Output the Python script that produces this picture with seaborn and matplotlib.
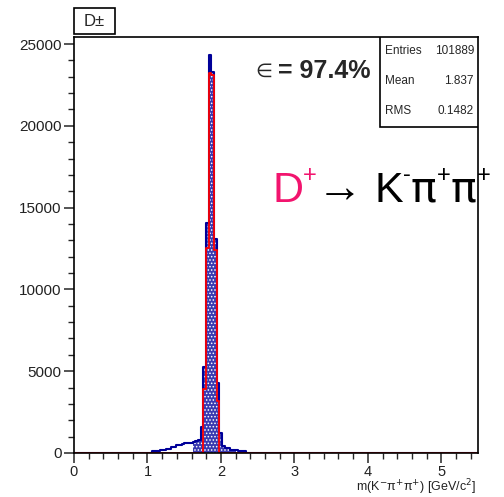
import numpy as np
import pandas as pd
import matplotlib
matplotlib.use('Agg')
import matplotlib.pyplot as plt
from matplotlib.patches import Rectangle
from matplotlib.ticker import MultipleLocator
import seaborn as sns

# binning of the invariant mass histogram (GeV/c^2)
n_bins = 150
x_lo, x_hi = 0.0, 5.5

# all D+- candidates, bins 29..63 (the rest is empty)
all_first = 29
all_counts = [120, 120, 120, 180, 180, 265, 265, 370, 370, 490,
              490, 520, 590, 590, 620, 650, 720, 800, 1610, 5240,
              14060, 24330, 23300, 13080, 4260, 1220, 400, 290, 290, 180,
              180, 180, 120, 120, 120]

# mass window shown with the dotted fill
win_first, win_last = 44, 59

# candidates passing the selection (red), bins 48..53
red_first = 48
red_counts = [3900, 12530, 23200, 23100, 12400, 3200]

stats_names = ['Entries', 'Mean', 'RMS']
stats_values = ['101889', '1.837', '0.1482']
eff_text = '= 97.4%'

W, H = 504, 497

edges = np.linspace(x_lo, x_hi, n_bins + 1)
df = pd.DataFrame({'mass': 0.5 * (edges[:-1] + edges[1:])})
df['all'] = 0.0
df.loc[all_first:all_first + len(all_counts) - 1, 'all'] = all_counts
df['win'] = 0.0
df.loc[win_first:win_last, 'win'] = df.loc[win_first:win_last, 'all']
df['sel'] = 0.0
df.loc[red_first:red_first + len(red_counts) - 1, 'sel'] = red_counts
bin_list = edges.tolist()

sns.set_style('ticks')
plt.rcParams['font.family'] = ['Liberation Sans', 'DejaVu Sans']
plt.rcParams['hatch.linewidth'] = 0.7

fig = plt.figure(figsize=(W / 100, H / 100), dpi=100)
ax = fig.add_axes([74 / W, 1 - 453 / H, 404 / W, 416 / H])

navy = '#000099'
sns.histplot(data=df, x='mass', weights='win', bins=bin_list, element='step', fill=True,
             facecolor='#3a3ab0', edgecolor='white', hatch='.....', linewidth=0,
             alpha=1, ax=ax)
sns.histplot(data=df, x='mass', weights='all', bins=bin_list, element='step', fill=False,
             color=navy, linewidth=1.5, ax=ax)
sns.histplot(data=df, x='mass', weights='sel', bins=bin_list, element='step', fill=False,
             color='#ff0000', linewidth=1.3, ax=ax)

ax.set_xlim(x_lo, x_hi)
ax.set_ylim(0, 25430)
ax.set_xlabel('')
ax.set_ylabel('')
ax.xaxis.set_major_locator(MultipleLocator(1))
ax.xaxis.set_minor_locator(MultipleLocator(0.2))
ax.yaxis.set_major_locator(MultipleLocator(5000))
ax.yaxis.set_minor_locator(MultipleLocator(1000))
ax.tick_params(which='major', direction='out', length=7, width=1.1,
               labelsize=11, labelcolor='#222222')
ax.tick_params(axis='x', which='major', labelsize=10.5, pad=2)
ax.tick_params(axis='y', which='major', pad=2)
ax.tick_params(which='minor', direction='out', length=4, width=1.0)
for s in ax.spines.values():
    s.set_visible(True)
    s.set_linewidth(1.2)
    s.set_color('black')

# x axis title at the bottom edge, below the tick labels
fig.text(476 / W, 1 - 497 / H, 'm(K$^{-}$π$^{+}$π$^{+}$) [GeV/c$^{2}$]',
         ha='right', va='bottom', fontsize=9, color='#222222')

# histogram name box
fig.add_artist(Rectangle((74 / W, 1 - 34 / H), 41 / W, 26 / H, transform=fig.transFigure,
                         facecolor='white', edgecolor='black', linewidth=1.2))
fig.text(94.5 / W, 1 - 21 / H, 'D±', ha='center', va='center', fontsize=12)

# statistics box
ax.add_patch(Rectangle(((380 - 74) / 404, 1 - 90 / 416), 98 / 404, 90 / 416,
                       transform=ax.transAxes, facecolor='white', edgecolor='black',
                       linewidth=1.2, zorder=5))
for i, (nm, val) in enumerate(zip(stats_names, stats_values)):
    py = 51.5 + 29.5 * i
    fig.text(385 / W, 1 - py / H, nm, ha='left', va='center', fontsize=8.5, zorder=6)
    fig.text(474 / W, 1 - py / H, val, ha='right', va='center', fontsize=8.5, zorder=6)

# efficiency
fig.text(272 / W, 1 - 77 / H, '∈', ha='right', va='baseline', fontsize=14,
         family=['DejaVu Sans'])
fig.text(371 / W, 1 - 77.5 / H, eff_text, ha='right', va='baseline',
         fontsize=18, fontweight='bold')

# decay channel, drawn piece by piece
pink = '#f2146e'
sans = ['Liberation Sans', 'DejaVu Sans']
decay_parts = [('D', pink, 31, 0, sans), ('+', pink, 17, 20, sans),
               ('→', 'black', 33, 0, sans), (' K', 'black', 31, 0, sans),
               ('-', 'black', 17, 21, sans), ('π', 'black', 31, 0, ['DejaVu Sans']),
               ('+', 'black', 17, 20, sans), ('π', 'black', 31, 0, ['DejaVu Sans']),
               ('+', 'black', 17, 20, sans)]
renderer = fig.canvas.get_renderer()
cx = 272
for txt, col, size, lift, fam in decay_parts:
    t = fig.text(cx / W, 1 - (202 - lift) / H, txt, color=col, fontsize=size,
                 ha='left', va='baseline', family=fam)
    cx = t.get_window_extent(renderer).x1

fig.savefig('out.png', dpi=100)
